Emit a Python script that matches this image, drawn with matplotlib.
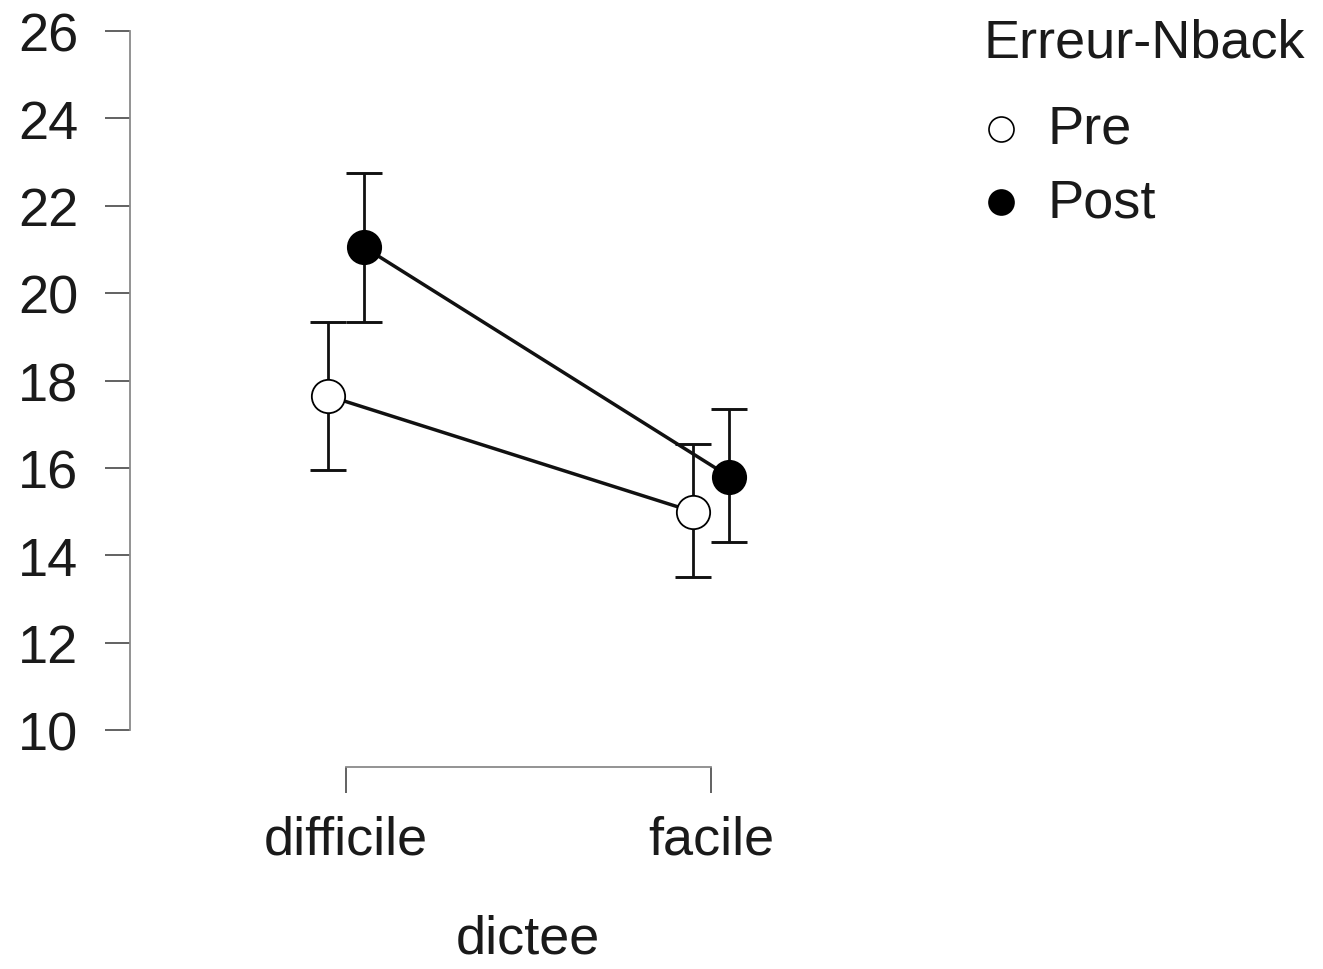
import matplotlib
matplotlib.use("Agg")
import matplotlib.pyplot as plt
from matplotlib.lines import Line2D

plt.rcParams['font.family'] = ['Liberation Sans', 'DejaVu Sans']

categories = ["difficile", "facile"]
groups = ["Pre", "Post"]
means = {"Pre": [17.65, 15.0], "Post": [21.05, 15.8]}
upper = {"Pre": [19.35, 16.55], "Post": [22.75, 17.35]}
lower = {"Pre": [15.95, 13.5], "Post": [19.35, 14.3]}
yticks = [10, 12, 14, 16, 18, 20, 22, 24, 26]
xlabel = "dictee"
legend_title = "Erreur-Nback"

W, H = 1323, 970
fig = plt.figure(figsize=(W / 100, H / 100), dpi=100)
FS = 39

# axes: left spine at px 130, y 26 at px 32, y 10 at px 731
left_px, top_px, bot_px, right_px = 130, 32, 731, 894
ax = fig.add_axes([left_px / W, 1 - bot_px / H, (right_px - left_px) / W, (bot_px - top_px) / H])
ax.set_ylim(10, 26)
cat_px = [346, 711]
scale = cat_px[1] - cat_px[0]
ax.set_xlim(-(cat_px[0] - left_px) / scale, (right_px - cat_px[0]) / scale)

offsets = {"Pre": -0.05, "Post": 0.05}
styles = {"Pre": dict(mfc="white", mec="black"), "Post": dict(mfc="black", mec="black")}
for g in groups:
    xs = [i + offsets[g] for i in range(len(categories))]
    m = means[g]
    yerr = [[m[i] - lower[g][i] for i in range(len(m))], [upper[g][i] - m[i] for i in range(len(m))]]
    ax.errorbar(xs, m, yerr=yerr, fmt='none', ecolor='#111111', elinewidth=2.0, capsize=13, capthick=2.1, zorder=2)
    ax.plot(xs, m, color='#111111', lw=2.5, zorder=3)
    ax.plot(xs, m, linestyle='none', marker='o', markersize=24, mew=1.3, zorder=4, **styles[g])

spine_col = '#8a8a8a'
for s in ['top', 'right']:
    ax.spines[s].set_visible(False)
ax.spines['left'].set_bounds(10, 26)
ax.spines['left'].set_color(spine_col)
ax.spines['left'].set_linewidth(1.3)
ax.spines['bottom'].set_bounds(0, 1)
ax.spines['bottom'].set_color(spine_col)
ax.spines['bottom'].set_linewidth(1.3)
ax.spines['bottom'].set_position(('outward', 37 * 0.72))

ax.set_yticks(yticks)
ax.set_yticklabels([str(t) for t in yticks])
ax.set_xticks(range(len(categories)))
ax.set_xticklabels(categories)
ax.tick_params(axis='y', length=18, width=1.3, color='#555555', pad=19, labelsize=FS, labelcolor='#1a1a1a')
ax.tick_params(axis='x', length=19, width=1.3, color='#555555', pad=15, labelsize=FS, labelcolor='#1a1a1a')
ax.set_xlabel(xlabel, fontsize=FS, color='#1a1a1a', va='center')
ax.xaxis.set_label_coords((528 - left_px) / (right_px - left_px), -(940 - bot_px) / (bot_px - top_px), transform=ax.transAxes)

# legend (manual)
fig.text(983 / W, 1 - 44 / H, legend_title, fontsize=FS, color='#1a1a1a', va='center', ha='left')
leg_y = {"Pre": 130, "Post": 203}
for g in groups:
    fig.add_artist(Line2D([1001 / W], [1 - leg_y[g] / H], transform=fig.transFigure, marker='o',
                          markersize=18, mew=1.2, linestyle='none', **styles[g]))
    fig.text(1047 / W, 1 - leg_y[g] / H, g, fontsize=FS, color='#1a1a1a', va='center', ha='left')

fig.savefig("out.png", dpi=100)
